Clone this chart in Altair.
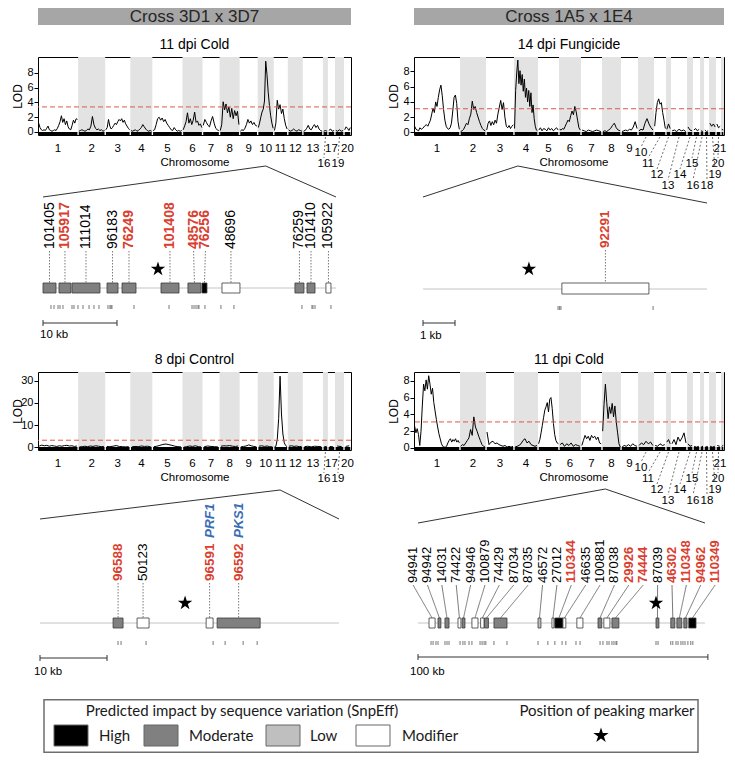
import altair as alt
import numpy as np
import pandas as pd

# ============================ DATA ============================
# Cross 3D1 x 3D7: chromosomes and map lengths (cM, read off the axis widths)
chroms_A = ["1", "2", "3", "4", "5", "6", "7", "8", "9", "10", "11", "12", "13", "16", "17", "19", "20"]
len_A = [160, 108, 100, 88, 120, 80, 68, 80, 72, 64, 56, 60, 80, 20, 28, 36, 28]

# Cross 1A5 x 1E4
chroms_B = ["1", "2", "3", "4", "5", "6", "7", "8", "9", "10", "11", "12", "13", "14", "15", "16", "18", "19", "20", "21"]
len_B = [184, 104, 112, 96, 84, 88, 84, 76, 68, 64, 48, 20, 64, 24, 28, 16, 20, 28, 20, 12]

# LOD profiles, one string of LOD values per chromosome (markers evenly along it)
lod_A_cold11 = [
    "1.2 0.6 0.3 0.2 0.3 0.2 0.5 0.8 0.3 0.2 0.1 0.2 0.3 0.2 0.5 0.9 1.4 2.2 1.3 1.8 1.0 1.5 0.7 0.4 0.3 0.9 1.6 1.2 1.8 1.7",
    "0.1 0.2 0.3 0.2 0.1 0.2 0.4 0.3 0.8 2.1 1.0 0.5 0.3 0.4 0.2 0.3 0.1 0.2",
    "0.3 0.6 1.7 0.8 0.4 0.6 0.9 1.2 1.0 1.4 1.7 1.5 1.8 1.3 1.6 1.1 0.8 0.5 0.3",
    "0.2 0.1 0.2 0.3 0.1 0.2 0.4 0.6 1.0 0.7 0.4 0.2 0.1 0.2 0.1",
    "0.2 0.3 1.0 1.8 2.0 1.6 1.9 1.4 1.7 1.2 0.9 0.6 0.3 0.2 0.6 0.3 0.1 0.2 0.1 0.2",
    "0.3 0.8 1.4 2.6 1.2 1.8 1.0 1.6 2.7 1.3 1.5 0.9 1.1 0.6",
    "0.9 1.7 1.3 0.9 0.7 1.5 2.1 1.2 0.5 0.3 0.2",
    "0.2 1.0 4.1 3.0 3.8 2.6 3.4 2.0 3.2 1.8 2.9 2.2 2.8 1.0",
    "0.1 0.3 0.2 0.5 1.0 1.7 1.2 1.5 1.0 1.3 0.9 0.8",
    "0.6 1.2 2.0 2.7 3.1 4.2 9.6 7.8 5.4 3.6 2.2 1.2 0.5",
    "0.2 1.2 4.3 3.1 3.7 2.5 3.1 1.8 0.9 0.4",
    "0.3 0.1 0.2 0.4 0.2 0.1 0.3 0.2 0.1",
    "0.1 0.2 0.5 0.9 0.4 0.3 0.7 1.0 0.6 0.9 0.4 0.2 0.1",
    "0.1 0.2 0.1",
    "0.2 0.4 0.1 0.2",
    "0.2 0.1 0.3 0.1 0.2",
    "0.3 0.7 0.5 0.2 0.6",
]
lod_B_fung14 = [
    "0.8 0.4 0.3 0.2 0.6 0.4 0.5 0.7 0.9 1.0 0.8 1.2 1.6 2.4 3.2 2.6 4.0 3.4 4.6 5.6 6.2 4.8 3.0 1.6 0.8 0.5 0.4 0.6 1.2 2.8 4.6 4.9 3.8 1.4 0.4",
    "0.1 0.2 0.4 0.8 1.2 1.0 1.8 2.4 4.1 3.0 3.4 2.6 2.0 1.4 0.9 0.5 0.3 0.2",
    "0.3 1.2 1.5 0.9 1.4 1.0 1.6 1.2 2.4 3.3 4.2 3.0 3.9 2.0 0.8 0.6 0.9 0.5 0.8 1.0",
    "0.5 5.5 7.8 9.5 6.4 8.1 6.2 7.6 5.4 7.0 4.6 5.8 4.0 5.5 3.4 5.2 2.6 3.6 1.8 0.8 0.3 0.2",
    "0.3 0.6 0.2 0.5 0.4 0.2 0.6 0.3 0.5 0.2 0.4 0.6 0.3",
    "0.4 0.3 0.5 0.4 0.8 1.2 1.6 1.4 2.2 2.8 2.3 3.4 2.7 1.6 0.6 0.3",
    "0.3 0.2 0.1 0.3 0.2 0.1 0.2 0.3 0.2 0.1",
    "0.1 0.2 0.1 0.3 0.5 0.9 1.2 0.6 0.3 0.2",
    "0.1 0.2 0.3 0.2 0.4 0.3 0.7 1.4 0.5",
    "0.2 0.4 0.3 1.2 1.8 1.1 0.6 0.3",
    "0.8 2.6 3.9 4.4 3.7 3.9 2.6 1.6 0.5",
    "0.4 1.1 0.5",
    "0.2 0.3 0.1 0.4 0.2 0.3 0.1",
    "0.7 0.3 0.2",
    "0.3 0.5 0.2 0.4",
    "0.2 0.1",
    "0.3 0.1 0.2",
    "1.2 0.8 1.1 0.7",
    "1.1 0.6 0.8",
    "0.4 0.3",
]
lod_A_ctrl8 = [
    "0.6 1.0 0.7 0.9 0.5 0.8 0.6 0.4 0.7 0.5 0.8 0.9 0.6 0.7 0.4 0.6",
    "0.2 0.3 0.5 0.3 0.6 0.4 0.7 0.5 0.3 0.4",
    "0.4 0.3 0.5 0.8 0.4 0.3 0.2 0.3",
    "0.2 0.4 0.3 0.6 0.4 0.5 0.2",
    "0.3 0.5 0.9 1.3 1.5 1.2 0.9 0.5 0.3 0.2",
    "0.1 0.3 0.6 0.4 0.7 0.3 0.2",
    "0.3 0.6 0.4 0.3 0.2",
    "0.5 0.7 0.6 0.8 0.5 0.4 0.6",
    "0.2 0.4 0.6 1.1 0.7 0.4 0.2",
    "0.5 0.7 0.4 0.6 0.3 0.2",
    "0.2 0.5 3.5 13.0 32.0 15.0 6.0 2.0 0.8 0.3",
    "0.5 0.7 0.4 0.6 0.3 0.4",
    "0.3 0.5 0.2 0.5 0.4 0.3",
    "0.2 0.4",
    "0.4 0.2",
    "0.6 0.3",
    "0.4 0.7",
]
lod_B_cold11 = [
    "2.6 1.8 2.3 1.6 0.3 2.0 5.0 7.6 6.8 8.1 7.0 8.6 7.6 6.4 7.1 5.4 4.4 3.4 2.5 1.7 1.1 0.5 0.2 0.1 0.1 0.2 0.6 0.9 1.1 0.7 1.0 0.8 1.1 0.7 0.9 0.6",
    "0.2 0.4 0.3 0.6 0.9 1.2 2.2 1.5 3.7 2.5 2.0 1.4 0.9 0.4 0.2 0.1",
    "1.9 0.4 0.7 0.8 0.5 0.6 0.4 0.3 0.2 0.3 0.1 0.2 0.1 0.2",
    "0.1 0.2 0.3 0.5 0.9 1.1 0.6 0.8 0.4 0.3 0.2 0.3",
    "0.5 1.0 1.8 2.7 3.6 4.5 4.9 5.4 4.3 5.8 6.0 4.7 2.9 1.6 0.9 0.6 0.5",
    "0.4 0.6 0.2 0.5 0.3 0.6 0.2 0.4 0.3 0.2",
    "0.3 0.9 1.5 1.1 1.4 0.9 1.5 1.2 1.4 1.0 1.3 0.6 0.5",
    "2.0 5.2 7.6 5.4 3.5 4.9 4.1 5.3 3.7 5.0 3.1 1.8 0.5 0.1",
    "0.1 0.3 0.2 0.4 0.2 0.5 0.3 0.2",
    "0.3 0.6 0.4 0.8 0.5 0.7 0.3",
    "0.3 0.2 0.5 0.3 0.4",
    "0.7 1.0 0.5",
    "0.5 1.0 0.4 1.3 0.8 1.2 1.8 0.6",
    "0.5 0.2 0.3",
    "0.2 0.1 0.2",
    "0.1 0.2",
    "0.1 0.2",
    "0.2 0.1 0.2",
    "0.3 0.2",
    "0.2 0.3",
]
thr_A_cold11, thr_B_fung14, thr_A_ctrl8, thr_B_cold11 = 3.4, 3.1, 3.2, 3.1

# Candidate gene regions (positions in kb from the region start)
IMPACTS = ["High", "Moderate", "Low", "Modifier"]

g1_names = ["101405", "105917", "111014", "96183", "76249", "101408", "48576", "76256", "48696", "76259", "101410", "105922"]
g1_start = [0.00, 2.16, 3.92, 8.65, 10.68, 15.95, 19.59, 21.49, 24.19, 34.05, 35.68, 38.24]
g1_end = [1.76, 3.78, 7.70, 10.14, 12.57, 18.38, 21.35, 22.16, 26.62, 35.27, 36.76, 38.92]
g1_impact = ["Moderate"] * 7 + ["High", "Modifier", "Moderate", "Moderate", "Modifier"]
g1_red = ["105917", "76249", "101408", "48576", "76256"]
g1_snps = [1.08, 1.49, 2.03, 2.30, 2.70, 3.92, 4.19, 4.73, 5.41, 6.22, 6.89, 7.57, 8.78, 9.05, 9.19, 9.32,
           12.30, 17.03, 20.14, 20.41, 20.68, 20.95, 21.08, 21.89, 24.05, 25.81, 35.0, 36.35, 36.49, 36.76, 38.92]
g1_star, g1_len = 15.54, 39.6

g2_names = ["92291"]
g2_start = [4.34]
g2_end = [7.06]
g2_impact = ["Modifier"]
g2_red = ["92291"]
g2_snps = [4.22, 4.27, 4.31, 7.19]
g2_star, g2_len = 3.31, 8.875

g3_names = ["96588", "50123", "96591", "96592"]
g3_start = [10.90, 14.48, 24.78, 26.42]
g3_end = [12.39, 16.27, 25.82, 32.84]
g3_impact = ["Moderate", "Modifier", "Modifier", "Moderate"]
g3_red = ["96588", "96591", "96592"]
g3_alias = {"96591": "PRF1", "96592": "PKS1"}
g3_snps = [11.64, 12.09, 15.82, 25.82, 27.61, 30.30, 32.39]
g3_star, g3_len = 21.64, 44.6

g4_names = ["94941", "94942", "14031", "74422", "94946", "100879", "74429", "87034", "87035", "46572", "27012",
            "110344", "46635", "100881", "87038", "29926", "74444", "87039", "46302", "110348", "94962", "110349"]
g4_start = [3.8, 6.9, 9.3, 13.8, 15.2, 18.6, 21.6, 22.9, 26.2, 41.4, 46.2, 47.2, 50.0, 54.8, 62.1, 64.1, 66.9,
            82.1, 87.2, 89.3, 91.7, 93.4]
g4_end = [5.9, 7.9, 10.7, 14.8, 16.2, 20.7, 22.8, 24.3, 30.7, 42.4, 46.9, 50.0, 51.0, 56.9, 63.4, 66.2, 69.3,
          83.1, 88.6, 91.0, 92.8, 95.9]
g4_impact = ["Modifier", "Moderate", "Moderate", "Modifier", "Moderate", "Modifier", "Modifier", "Moderate",
             "Moderate", "Low", "Modifier", "High", "Modifier", "Modifier", "Moderate", "Modifier", "Moderate",
             "Moderate", "Moderate", "Moderate", "Moderate", "High"]
g4_red = ["110344", "29926", "74444", "46302", "110348", "94962", "110349"]
g4_snps = [4.5, 5.2, 6.2, 6.9, 9.3, 10.0, 10.7, 14.5, 15.5, 16.2, 17.6, 18.6, 21.4, 22.1, 22.8, 23.4, 26.2, 30.7,
           41.4, 44.8, 47.2, 49.7, 51.0, 54.5, 55.9, 62.8, 63.8, 65.2, 65.9, 66.9, 67.6, 68.3, 68.6, 82.1, 82.8,
           87.2, 87.9, 89.0, 89.7, 90.7, 91.4, 92.1, 93.1, 94.1, 94.8]
g4_star, g4_len = 82.1, 99.0

# ============================ STYLE / LAYOUT ============================
FONT = "Liberation Sans, Arial, Helvetica, sans-serif"
LEG_FONT = "Lato"
IMPACT_FILL = ["#000000", "#808080", "#bfbfbf", "#ffffff"]
RED, BLUE = "#d9402f", "#3a6db5"
STAR = ("M0,-1L0.2245,-0.309L0.951,-0.309L0.3633,0.118L0.5878,0.809L0,0.382L-0.5878,0.809"
        "L-0.3633,0.118L-0.951,-0.309L-0.2245,-0.309Z")
W_A, W_B, H_LOD = 313, 310, 78
ROW_OFF = {"m": 14, "a": 18, "r1": 29, "r2": 40, "r3": 51}
LAB_A = {"16": (-1.5, "r1"), "19": (-1.5, "r1")}
LAB_B = {"10": (-5, "a"), "11": (-12, "r1"), "12": (-11.5, "r2"), "13": (-11, "r3"), "14": (-10, "r2"),
         "15": (-4.5, "r1"), "16": (-9, "r3"), "18": (0.5, "r3"), "19": (2.5, "r2"), "20": (-0.5, "r1"),
         "21": (-2.5, "m")}
# label slots of the first region (kb), nudged apart where two genes sit side by side
g1_label_x = [0.88, 2.97, 5.81, 9.40, 11.62, 17.16, 20.35, 21.95, 25.40, 34.66, 36.22, 38.58]


def build_lod(chroms, lengths, strings):
    rows, crow, start = [], [], 0.0
    for i, (c, L, s) in enumerate(zip(chroms, lengths, strings)):
        vals = [float(v) for v in s.split()]
        n = len(vals)
        for k, v in enumerate(vals):
            rows.append({"chrom": c, "pos": start + L * (k + 0.5) / n, "lod": v})
        crow.append({"chrom": c, "start": start, "end": start + L, "center": start + L / 2, "shade": i % 2 == 1})
        start += L
    return pd.DataFrame(rows), pd.DataFrame(crow), start


def lod_chart(title, chroms, lengths, strings, dom, ticks, thr, width, lab_layout, ctitle_x, peak_chrom):
    df, cdf, total = build_lod(chroms, lengths, strings)
    per_px = total / width
    cdf["lx"] = [r.center + lab_layout.get(r.chrom, (0, "m"))[0] * per_px for r in cdf.itertuples()]
    cdf["row"] = [lab_layout.get(c, (0, "m"))[1] for c in cdf.chrom]
    cdf["rs"] = cdf.start + 0.7 * per_px
    cdf["re"] = cdf.end - 0.7 * per_px
    xs = alt.Scale(domain=[0, total], nice=False, zero=False)
    ys = alt.Scale(domain=list(dom), nice=False, zero=False)
    yax = alt.Axis(values=ticks, title="LOD", titleFontSize=12, titleFontWeight="normal", titleColor="black",
                   titleFont=FONT, labelFont=FONT, titleX=-17, titleY=H_LOD / 2, titleAngle=270,
                   titleAlign="center", titleBaseline="alphabetic",
                   labelFontSize=11, labelColor="black", tickColor="black", tickSize=4, labelPadding=1,
                   domain=False, grid=False, labelFlush=False, labelOverlap=False)

    def X(f):
        return alt.X(f, type="quantitative", scale=xs, axis=None)

    layers = [
        alt.Chart(cdf).transform_filter("datum.shade").mark_rect(color="#e3e3e3").encode(
            x=X("start"), x2="end", y=alt.value(0), y2=alt.value(H_LOD)),
        alt.Chart(df).mark_line(color="black", strokeWidth=1).encode(
            x=X("pos"), y=alt.Y("lod:Q", scale=ys, axis=yax), detail="chrom:N"),
        alt.Chart(pd.DataFrame({"thr": [thr]})).mark_rule(color="#e0564c", strokeDash=[5, 3], strokeWidth=1).encode(
            y=alt.Y("thr:Q", scale=ys, axis=yax)),
        alt.Chart(cdf).mark_rule(color="black", strokeWidth=3).encode(
            x=X("rs"), x2="re", y=alt.value(H_LOD - 1.5)),
    ]
    for row, off in ROW_OFF.items():
        sub = cdf[cdf.row == row]
        if sub.empty:
            continue
        if row != "m":
            layers.append(alt.Chart(sub).mark_rule(color="#333", strokeDash=[2, 2], strokeWidth=0.7).encode(
                x=X("center"), x2="lx", y=alt.value(H_LOD + 2), y2=alt.value(H_LOD + off - 6)))
        layers.append(alt.Chart(sub).mark_text(font=FONT, fontSize=11.5, color="black", baseline="middle").encode(
            x=X("lx"), y=alt.value(H_LOD + off), text="chrom:N"))
    layers.append(alt.Chart(pd.DataFrame({"t": ["Chromosome"]})).mark_text(
        font=FONT, fontSize=11.5, color="black", baseline="middle").encode(
        text="t:N", x=alt.value(ctitle_x), y=alt.value(H_LOD + 28)))
    sub = df[df.chrom == peak_chrom]
    peak_px = sub.loc[sub.lod.idxmax(), "pos"] / total * width
    ch = alt.layer(*layers).properties(
        width=width, height=H_LOD,
        title=alt.TitleParams(title, font=FONT, fontSize=14, fontWeight="normal", color="black", offset=5,
                              anchor="middle"),
        view=alt.ViewBackground(stroke="black", strokeWidth=1))
    return ch, peak_px


def gene_chart(names, starts, ends, impacts, reds, snps, star, L, rng, width, height, apex_px, geo,
               bar_kb, bar_label, label_x=None, alias=None, diag=False):
    g = pd.DataFrame({"name": names, "start": starts, "end": ends, "impact": impacts})
    g["center"] = (g.start + g.end) / 2
    g["lx"] = g.center if label_x is None else label_x
    g["red"] = g.name.isin(reds)
    xs = alt.Scale(domain=[0, L], range=list(rng), nice=False, zero=False)
    apex_kb = (apex_px - rng[0]) / (rng[1] - rng[0]) * L

    def X(f):
        return alt.X(f, type="quantitative", scale=xs, axis=None)

    one = pd.DataFrame({"a": [apex_kb], "l": [0.0], "r": [L], "bar": [bar_kb], "star": [star],
                        "lab": [bar_label]})
    layers = [
        alt.Chart(one).mark_rule(color="#333", strokeWidth=1).encode(
            x=X("a"), x2="l", y=alt.value(geo["apex"]), y2=alt.value(geo["endL"])),
        alt.Chart(one).mark_rule(color="#333", strokeWidth=1).encode(
            x=X("a"), x2="r", y=alt.value(geo["apex"]), y2=alt.value(geo["endR"])),
        alt.Chart(one).mark_rule(color="#c4c4c4", strokeWidth=1).encode(
            x=X("l"), x2="r", y=alt.value(geo["base"])),
        alt.Chart(g).mark_rule(color="#555", strokeWidth=0.8,
                               strokeDash=[1, 0] if diag else [1.5, 1.5]).encode(
            x=X("lx"), x2="center", y=alt.value(geo["lab"] + 2), y2=alt.value(geo["box0"])),
        alt.Chart(g).mark_rect(stroke="#3a3a3a", strokeWidth=0.8).encode(
            x=X("start"), x2="end", y=alt.value(geo["box0"]), y2=alt.value(geo["box1"]),
            fill=alt.Fill("impact:N", scale=alt.Scale(domain=IMPACTS, range=IMPACT_FILL), legend=None)),
        alt.Chart(g).transform_filter("!datum.red").mark_text(
            font=FONT, angle=270, align="left", baseline="middle", fontSize=geo["fs"], color="black").encode(
            x=X("lx"), y=alt.value(geo["lab"]), text="name:N"),
        alt.Chart(g).transform_filter("datum.red").mark_text(
            font=FONT, angle=270, align="left", baseline="middle", fontSize=geo["fs"], color=RED,
            fontWeight="bold").encode(
            x=X("lx"), y=alt.value(geo["lab"]), text="name:N"),
        alt.Chart(one).mark_point(shape=STAR, filled=True, color="black", size=230, opacity=1).encode(
            x=X("star"), y=alt.value(geo["star"])),
        alt.Chart(pd.DataFrame({"p": snps})).mark_rule(color="#555", strokeWidth=0.8).encode(
            x=X("p"), y=alt.value(geo["snp"]), y2=alt.value(geo["snp"] + 4)),
        alt.Chart(one).mark_rule(color="#333", strokeWidth=1).encode(
            x=X("l"), x2="bar", y=alt.value(geo["bar"])),
        alt.Chart(pd.DataFrame({"t": [0.0, bar_kb]})).mark_rule(color="#333", strokeWidth=1).encode(
            x=X("t"), y=alt.value(geo["bar"] - 3), y2=alt.value(geo["bar"] + 3)),
        alt.Chart(one).mark_text(font=FONT, align="left", baseline="middle", fontSize=11.5, color="black",
                                 dx=geo["bardx"]).encode(
            x=X("l"), y=alt.value(geo["barlab"]), text="lab:N"),
    ]
    if alias:
        ga = g[g.name.isin(list(alias))].copy()
        ga["alias"] = [alias[n] for n in ga.name]
        layers.append(alt.Chart(ga).mark_text(
            font=FONT, angle=270, align="left", baseline="middle", fontSize=geo["fs"], color=BLUE,
            fontWeight="bold", fontStyle="italic").encode(
            x=X("lx"), y=alt.value(geo["blue"]), text="alias:N"))
    return alt.layer(*layers).properties(width=width, height=height)


def header(text, width):
    return alt.Chart(pd.DataFrame({"t": [text]})).mark_text(
        font=FONT, fontSize=17, color="#262626", baseline="middle").encode(
        text="t:N", x=alt.value(width / 2), y=alt.value(9)).properties(
        width=width, height=17, view=alt.ViewBackground(fill="#a6a6a6", stroke="#a6a6a6"))


def spacer(w, h):
    return alt.Chart(pd.DataFrame({"a": [0]})).mark_point(opacity=0).properties(width=w, height=h)


# ---------------- panels ----------------
lodTL, pTL = lod_chart("11 dpi Cold", chroms_A, len_A, lod_A_cold11, (-0.41, 10.17), [0, 2, 4, 6, 8],
                       thr_A_cold11, W_A, LAB_A, 157, "10")
lodTR, pTR = lod_chart("14 dpi Fungicide", chroms_B, len_B, lod_B_fung14, (-0.35, 9.9), [0, 2, 4, 6, 8],
                       thr_B_fung14, W_B, LAB_B, 160, "4")
lodBL, pBL = lod_chart("8 dpi Control", chroms_A, len_A, lod_A_ctrl8, (-1.2, 33.9), [0, 10, 20, 30],
                       thr_A_ctrl8, W_A, LAB_A, 157, "11")
lodBR, pBR = lod_chart("11 dpi Cold", chroms_B, len_B, lod_B_cold11, (-0.24, 9.04), [0, 2, 4, 6, 8],
                       thr_B_cold11, W_B, LAB_B, 160, "8")

geo_top = dict(apex=31, endL=62, endR=62, lab=114, box0=148, box1=158, base=153, star=134, snp=170,
               bar=188, barlab=200, bardx=-3, fs=14)
geo_topR = dict(geo_top, endR=68, lab=113, box1=159, base=154, snp=171, barlab=201, fs=13.5)
geo_bot = dict(apex=40, endL=69, endR=69, lab=131, box0=168, box1=178, base=173, star=153, snp=191,
               bar=208, barlab=222, bardx=-6, fs=13.5, blue=88)
geo_botR = dict(geo_bot, apex=39, endL=73, endR=73, lab=133, bar=207, bardx=-8, fs=13)

H_G1, H_G2 = 237, 249
geneTL = gene_chart(g1_names, g1_start, g1_end, g1_impact, g1_red, g1_snps, g1_star, g1_len, (5, 298),
                    W_A, H_G1, pTL, geo_top, 10, "10 kb", label_x=g1_label_x)
geneTR = gene_chart(g2_names, g2_start, g2_end, g2_impact, g2_red, g2_snps, g2_star, g2_len, (9, 293),
                    W_B, H_G1, pTR, geo_topR, 1, "1 kb")
geneBL = gene_chart(g3_names, g3_start, g3_end, g3_impact, g3_red, g3_snps, g3_star, g3_len, (2, 301),
                    W_A, H_G2, pBL, geo_bot, 10, "10 kb", alias=g3_alias)
g4_label_x = list(np.linspace(-1.7, 102.5, len(g4_names)))  # evenly spread label slots
geneBR = gene_chart(g4_names, g4_start, g4_end, g4_impact, g4_red, g4_snps, g4_star, g4_len, (4, 291),
                    W_B, H_G2, pBR, geo_botR, 100, "100 kb", label_x=g4_label_x, diag=True)

# ---------------- legend ----------------
H_LEG = 54
LEG_SW_X = [16, 106, 228, 318]
LEG_TX_X = [61, 151, 272, 364]
leg = pd.DataFrame({"impact": IMPACTS, "sx": LEG_SW_X, "tx": LEG_TX_X})
leg["sx2"] = leg.sx + 34
legend = alt.layer(
    alt.Chart(pd.DataFrame({"a": [0]})).mark_rect(fill="white", stroke="#6e6e6e", strokeWidth=1.5).encode(
        x=alt.value(6), x2=alt.value(660), y=alt.value(0.75), y2=alt.value(H_LEG - 0.75)),
    alt.Chart(leg).mark_rect(stroke="#666", strokeWidth=1).encode(
        x=alt.X("sx:Q", scale=None), x2="sx2:Q", y=alt.value(26), y2=alt.value(47),
        fill=alt.Fill("impact:N", scale=alt.Scale(domain=IMPACTS, range=IMPACT_FILL), legend=None)),
    alt.Chart(leg).mark_text(align="left", baseline="middle", fontSize=15, font=LEG_FONT, color="#1a1a1a").encode(
        x=alt.X("tx:Q", scale=None), y=alt.value(36.5), text="impact:N"),
    alt.Chart(pd.DataFrame({"t": ["Predicted impact by sequence variation (SnpEff)"]})).mark_text(
        baseline="middle", fontSize=15, font=LEG_FONT, color="#1a1a1a").encode(
        text="t:N", x=alt.value(204), y=alt.value(12)),
    alt.Chart(pd.DataFrame({"t": ["Position of peaking marker"]})).mark_text(
        baseline="middle", fontSize=15, font=LEG_FONT, color="#1a1a1a").encode(
        text="t:N", x=alt.value(569), y=alt.value(12)),
    alt.Chart(pd.DataFrame({"a": [0]})).mark_point(shape=STAR, filled=True, color="black", size=260,
                                                   opacity=1).encode(x=alt.value(563), y=alt.value(36.5)),
).properties(width=W_A, height=H_LEG)

chart = alt.concat(
    header("Cross 3D1 x 3D7", W_A), header("Cross 1A5 x 1E4", W_B),
    spacer(W_A, 32), spacer(W_B, 32),
    lodTL, lodTR,
    geneTL, geneTR,
    lodBL, lodBR,
    geneBL, geneBR,
    legend, spacer(W_B, 1),
    columns=2, spacing=alt.RowColnumber(row=0, column=63), bounds="flush",
).properties(
    padding={"left": 2, "top": 0, "right": 0, "bottom": 0}
).configure(font=FONT).configure_view(strokeWidth=0)

chart.save("out.html", embed_options={"renderer": "svg", "actions": False})
